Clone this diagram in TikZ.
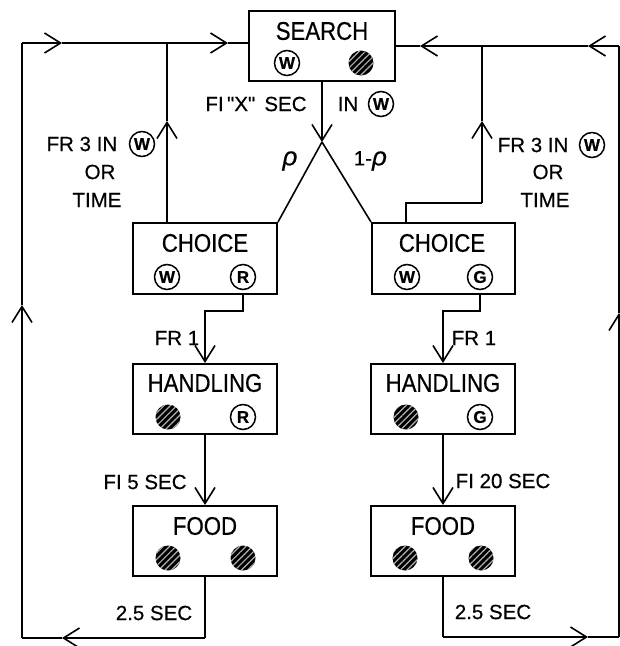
\documentclass[tikz,border=0pt]{standalone}
\usepackage{fontspec}
\setmainfont{Liberation Sans}[FakeBold=0.5]
\newfontfamily\titlef{Liberation Sans}[FakeStretch=0.87,FakeBold=0.6]
\usetikzlibrary{arrows.meta,patterns.meta,calc}
\begin{document}
\begin{tikzpicture}[x=1pt,y=-1pt,
  line width=1.6pt,
  box/.style={draw, line width=2pt, minimum width=144pt, minimum height=70pt, inner sep=0pt},
  ttl/.style={font=\titlef\fontsize{25.5}{25}\selectfont, inner sep=0pt},
  lbl/.style={font=\fontsize{20.5}{22}\selectfont, inner sep=0pt},
  rh/.style={font=\itshape\fontsize{26}{26}\selectfont, inner sep=0pt},
  cl/.style={circle, draw, line width=1.5pt, minimum size=25pt, inner sep=0pt, font=\bfseries\fontsize{17}{17}\selectfont},
  hc/.style={circle, fill=black, minimum size=25pt, inner sep=0pt,
     postaction={pattern={Lines[angle=45,distance=4.5pt,line width=1.2pt]}, pattern color=gray!60}},
  >={Straight Barb[length=16pt,width=20pt]}
]
\useasboundingbox (0,0) rectangle (620,646);

% ---- boxes ----
\node[box, minimum width=146pt] (search) at (322,46) {};
\node[ttl] (searcht) at (322,31) {SEARCH};
\node[cl] (sw) at (287,63) {W};
\node[hc] (sh) at (361,63) {};

\node[box, minimum height=71pt] (cL) at (205,258.5) {};
\node[ttl] (cLt) at (205,243) {CHOICE};
\node[cl] (cLw) at (167,277) {W};
\node[cl] (cLr) at (243,277) {R};

\node[box, minimum height=71pt, minimum width=143pt] (cR) at (443.5,258.5) {};
\node[ttl] (cRt) at (442,243) {CHOICE};
\node[cl] (cRw) at (407,277) {W};
\node[cl] (cRg) at (480,277) {G};

\node[box] (hL) at (205,399) {};
\node[ttl] (hLt) at (205,383) {HANDLING};
\node[hc] (hLh) at (168,417) {};
\node[cl] (hLr) at (243,417) {R};

\node[box] (hR) at (443,399) {};
\node[ttl] (hRt) at (443,383) {HANDLING};
\node[hc] (hRh) at (406,417) {};
\node[cl] (hRg) at (480,417) {G};

\node[box] (fL) at (205,541) {};
\node[ttl] (fLt) at (205,526) {FOOD};
\node[hc] (fLh1) at (168,558) {};
\node[hc] (fLh2) at (243,558) {};

\node[box] (fR) at (443,541) {};
\node[ttl] (fRt) at (443,526) {FOOD};
\node[hc] (fRh1) at (405,558) {};
\node[hc] (fRh2) at (481,558) {};

% ---- coordinates ----
\coordinate (tl) at (22,43);
\coordinate (bl) at (22,638);
\coordinate (tr) at (619,46);
\coordinate (br) at (619,637);
\coordinate (il) at (167,43);
\coordinate (ir) at (482,46);
\coordinate (jn) at (322,142);

% ---- left loop ----
\draw[->] (tl) -- (62,43) coordinate (a1);
\draw[->] (a1) -- (228,43) coordinate (a2);
\draw (a2) -- (search.west |- tl);
\draw[->] (cL.north -| il) -- (167,121) coordinate (u1);
\draw (u1) -- (il);
\draw[->] (bl) -- (22,305) coordinate (u2);
\draw (u2) -- (tl);
\draw (fL.south) -- (fL.south |- bl) coordinate (b1);
\draw[->] (b1) -- (62,638) coordinate (a3);
\draw (a3) -- (bl);

% ---- right loop ----
\draw[->] (tr) -- (588,46) coordinate (a4);
\draw[->] (a4) -- (420,46) coordinate (a5);
\draw (a5) -- (search.east |- tr);
\draw (cR.north -| 406,0) -- (406,203) -- (482,203) coordinate (c1);
\draw[->] (c1) -- (482,121) coordinate (u3);
\draw (u3) -- (ir);
\draw[->] (br) -- (619,313) coordinate (u4);
\draw (u4) -- (tr);
\draw (fR.south) -- (fR.south |- br) coordinate (b2);
\draw[->] (b2) -- (588,637) coordinate (a6);
\draw (a6) -- (br);

% ---- middle ----
\draw[->] (search.south) -- (jn);
\draw (jn) -- (cL.north east);
\draw (jn) -- (cR.north west);
\draw[->] (cLr |- cL.south) -- ++(0,16) -| (hL.north);
\draw[->] (cRg |- cR.south) -- ++(0,16) -| (hR.north);
\draw[->] (hL.south) -- (fL.north);
\draw[->] (hR.south) -- (fR.north);

% ---- labels ----
\node[lbl] (lx) at (256,104) {FI\,\textquotedbl X\textquotedbl\, SEC};
\node[lbl, anchor=west] (lin) at (337,104) {IN};
\node[cl] (linw) at (381,104) {W};

\node[lbl, anchor=east] (lfl) at (118,144) {FR 3 IN};
\node[cl] (lflw) at (142,144) {W};
\node[lbl] (lflo) at (100,172) {OR};
\node[lbl] (lflt) at (97,200) {TIME};

\node[lbl, anchor=west] (lfr) at (497,145) {FR 3 IN};
\node[cl] (lfrw) at (592,145) {W};
\node[lbl] (lfro) at (548,172) {OR};
\node[lbl] (lfrt) at (545,200) {TIME};

\node[rh] (rho) at (290,161) {ρ};
\node[lbl, anchor=west] (omr) at (353,161) {1-{\itshape\fontsize{26}{26}\selectfont ρ}};

\node[lbl] (fr1l) at (177,338) {FR 1};
\node[lbl] (fr1r) at (474,338) {FR 1};
\node[lbl] (fi5) at (145,482) {FI 5 SEC};
\node[lbl] (fi20) at (503,481) {FI 20 SEC};
\node[lbl] (d1) at (154,613) {2.5 SEC};
\node[lbl] (d2) at (493,612) {2.5 SEC};
\end{tikzpicture}
\end{document}
